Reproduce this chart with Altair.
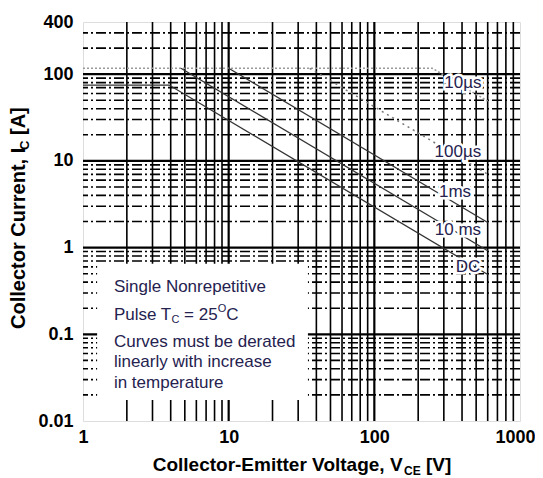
import altair as alt
import pandas as pd

# ---------------- data ----------------
# SOA boundary curves (V_CE [V], I_C [A])
v_10us = [1, 250, 600]
i_10us = [117, 117, 49]
v_100us = [36, 600]
i_100us = [117, 7.0]
v_1ms = [10, 600]
i_1ms = [117, 1.95]
v_10ms = [4.7, 600]
i_10ms = [117, 0.92]
v_dc = [1, 3.9, 600]
i_dc = [75, 75, 0.49]

# curve labels
label_text = ["10µs", "100µs", "1ms", "10 ms", "DC"]
label_v = [406, 375, 358, 375, 439]
label_i = [80, 12.7, 4.38, 1.6, 0.597]

# axis ticks
x_ticks = [1, 10, 100, 1000]
y_ticks = [0.01, 0.1, 1, 10, 100, 400]

# grid lines
grid_x_minor = [2, 3, 4, 5, 6, 7, 8, 9, 20, 30, 40, 50, 60, 70, 80, 90,
                200, 300, 400, 500, 600, 700, 800, 900]
grid_x_major = [10, 100]
grid_y_minor = [0.02, 0.03, 0.04, 0.05, 0.06, 0.07, 0.08, 0.09,
                0.2, 0.3, 0.4, 0.5, 0.6, 0.7, 0.8, 0.9,
                2, 3, 4, 5, 6, 7, 8, 9,
                20, 30, 40, 50, 60, 70, 80, 90, 200, 300]
grid_y_major = [0.1, 1, 10, 100]

# note box (blank area) and its text
box_v = [1.25, 35]
box_i = [0.0175, 0.65]
note_lines = ["Single Nonrepetitive", "Curves must be derated",
              "linearly with increase", "in temperature"]
note_i = [0.351, 0.0815, 0.0479, 0.0274]
note_v = 1.63
pulse_i = 0.167

# ---------------- chart ----------------
W, H = 437, 399
FONT = "Liberation Sans"
NAVY = "#25224f"

xs = alt.Scale(type="log", domain=[1, 1000], nice=False)
ys = alt.Scale(type="log", domain=[0.01, 400], nice=False)

axis_x = alt.Axis(values=x_ticks, format="~g", title=None, grid=False, ticks=False,
                  domain=False, labelFont=FONT, labelFontSize=18, labelFontWeight="bold",
                  labelColor="black", labelPadding=7, labelFlush=False, labelOverlap=False,
                  labelOffset={"condition": {"test": "datum.value == 1000", "value": -5},
                               "value": 0})
axis_y = alt.Axis(values=y_ticks, format="~g", title=None, grid=False, ticks=False,
                  domain=False, labelFont=FONT, labelFontSize=18, labelFontWeight="bold",
                  labelColor="black", labelPadding=10, labelFlush=False, labelOverlap=False)

def X(field):
    return alt.X(field, type="quantitative", scale=xs, axis=axis_x)

def Y(field):
    return alt.Y(field, type="quantitative", scale=ys, axis=axis_y)

gx_min = alt.Chart(pd.DataFrame({"v": grid_x_minor})).mark_rule(
    color="black", strokeWidth=1.6).encode(x=X("v"))
gx_maj = alt.Chart(pd.DataFrame({"v": grid_x_major})).mark_rule(
    color="black", strokeWidth=2.2).encode(x=X("v"))
gy_min = alt.Chart(pd.DataFrame({"i": grid_y_minor})).mark_rule(
    color="black", strokeWidth=1.6, strokeDash=[10, 3, 2, 3]).encode(y=Y("i"))
gy_maj = alt.Chart(pd.DataFrame({"i": grid_y_major})).mark_rule(
    color="black", strokeWidth=2.2).encode(y=Y("i"))

box = alt.Chart(pd.DataFrame({"v1": [box_v[0]], "v2": [box_v[1]],
                              "i1": [box_i[0]], "i2": [box_i[1]]})).mark_rect(
    fill="white").encode(x=X("v1"), x2="v2", y=Y("i1"), y2="i2")

def curve_df(name, vs, is_):
    return pd.DataFrame({"V": vs, "I": is_, "curve": name, "ord": list(range(len(vs)))})

c10us = alt.Chart(curve_df("10µs", v_10us, i_10us)).mark_line(
    color="#9a9a9a", strokeWidth=1.6, strokeDash=[2, 2]).encode(
    x=X("V"), y=Y("I"), order="ord:Q")
c100us = alt.Chart(curve_df("100µs", v_100us, i_100us)).mark_line(
    color="#777777", strokeWidth=1.5, strokeDash=[2, 4]).encode(
    x=X("V"), y=Y("I"), order="ord:Q")
solid_df = pd.concat([curve_df("1ms", v_1ms, i_1ms),
                      curve_df("10ms", v_10ms, i_10ms),
                      curve_df("DC", v_dc, i_dc)])
csolid = alt.Chart(solid_df).mark_line(color="#333333", strokeWidth=1.3).encode(
    x=X("V"), y=Y("I"), detail="curve:N", order="ord:Q")

lab_df = pd.DataFrame({"t": label_text, "V": label_v, "I": label_i})
lab_halo = alt.Chart(lab_df).mark_text(font=FONT, fontSize=17, stroke="white",
                                       strokeWidth=5, fill="white").encode(
    x=X("V"), y=Y("I"), text="t:N")
lab = alt.Chart(lab_df).mark_text(font=FONT, fontSize=17, color=NAVY).encode(
    x=X("V"), y=Y("I"), text="t:N")

note_df = pd.DataFrame({"t": note_lines, "V": note_v, "I": note_i})
note = alt.Chart(note_df).mark_text(font=FONT, fontSize=17, color=NAVY, align="left",
                                    baseline="middle").encode(
    x=X("V"), y=Y("I"), text="t:N")

pulse_parts = ["Pulse T", "C", "= 25", "O", "C"]
pulse_dx = [0, 57.6, 70.2, 103.8, 112.4]
pulse_dy = [0, 5, 0, -6, 0]
pulse_fs = [17, 11, 17, 11, 17]
pulse_layers = []
for t, dx, dy, fs in zip(pulse_parts, pulse_dx, pulse_dy, pulse_fs):
    pulse_layers.append(
        alt.Chart(pd.DataFrame({"t": [t], "V": [note_v], "I": [pulse_i]})).mark_text(
            font=FONT, fontSize=fs, color=NAVY, align="left", baseline="middle",
            dx=dx, dy=dy).encode(x=X("V"), y=Y("I"), text="t:N"))

def ptext(t, x, y, fs, angle=0, weight="bold"):
    kw = dict(font=FONT, fontSize=fs, fontWeight=weight, color="black",
              align="left", baseline="alphabetic")
    if angle:
        kw["angle"] = angle
    return alt.Chart(pd.DataFrame({"t": [t]})).mark_text(**kw).encode(
        x=alt.value(x), y=alt.value(y), text="t:N")

# x title: "Collector-Emitter Voltage, V_CE [V]"
xt = [ptext("Collector-Emitter Voltage, V", 69.7, 449, 19),
      ptext("CE", 321.0, 453, 12),
      ptext("[V]", 343.0, 449, 19)]
# y title: "Collector Current, I_C [A]" (rotated)
yt = [ptext("Collector Current, I", -58, 306.9, 20, angle=270),
      ptext("C", -54, 128.0, 13, angle=270),
      ptext("[A]", -58, 113.0, 20, angle=270)]

chart = alt.layer(
    gx_min, gx_maj, gy_min, gy_maj, box,
    c10us, c100us, csolid, lab_halo, lab, note, *pulse_layers, *xt, *yt
).properties(
    width=W, height=H,
    autosize=alt.AutoSizeParams(type="none"),
    padding={"left": 75, "top": 14, "right": 15, "bottom": 58},
).configure_view(stroke="black", strokeWidth=1.5).configure(background="white")

chart.save("out.html", embed_options={"renderer": "svg", "actions": False})
